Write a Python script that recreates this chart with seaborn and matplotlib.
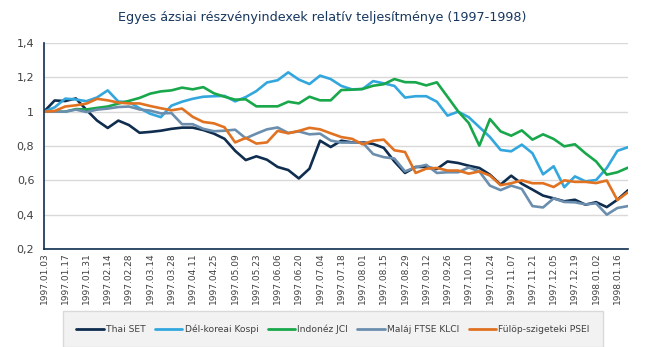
import matplotlib
matplotlib.use("Agg")
import matplotlib.pyplot as plt
from matplotlib.lines import Line2D
from matplotlib.patches import Rectangle
import seaborn as sns
import pandas as pd
import numpy as np

# ---- data (weekly, 1997.01.03 - 1998.01.23, relative to first week) ----
thai_set = [1.0, 1.065, 1.062, 1.077, 1.01, 0.948, 0.905, 0.948, 0.922, 0.877,
            0.882, 0.889, 0.9, 0.907, 0.907, 0.893, 0.872, 0.842, 0.772, 0.718,
            0.74, 0.72, 0.678, 0.66, 0.611, 0.668, 0.831, 0.794, 0.831, 0.821,
            0.821, 0.812, 0.789, 0.71, 0.643, 0.678, 0.678, 0.666, 0.71, 0.701,
            0.685, 0.672, 0.633, 0.575, 0.627, 0.58, 0.546, 0.511, 0.495, 0.478,
            0.487, 0.458, 0.473, 0.444, 0.487, 0.542]
kor_kospi = [1.0, 1.025, 1.076, 1.071, 1.061, 1.083, 1.124, 1.059, 1.056, 1.02,
             0.988, 0.968, 1.035, 1.058, 1.075, 1.087, 1.09, 1.092, 1.06, 1.085,
             1.12, 1.17, 1.183, 1.229, 1.187, 1.161, 1.21, 1.19, 1.15, 1.13,
             1.132, 1.178, 1.165, 1.15, 1.082, 1.09, 1.09, 1.058, 0.977, 1.0,
             0.968, 0.91, 0.852, 0.777, 0.769, 0.808, 0.758, 0.635, 0.682, 0.56,
             0.623, 0.594, 0.602, 0.672, 0.772, 0.793]
ind_jci = [1.0, 1.0, 1.0, 1.015, 1.013, 1.022, 1.03, 1.047, 1.063, 1.08,
           1.105, 1.118, 1.124, 1.14, 1.13, 1.143, 1.107, 1.087, 1.07, 1.072,
           1.031, 1.031, 1.031, 1.058, 1.048, 1.087, 1.066, 1.066, 1.126, 1.128,
           1.132, 1.151, 1.16, 1.19, 1.172, 1.171, 1.153, 1.171, 1.087, 1.002,
           0.934, 0.802, 0.957, 0.885, 0.86, 0.891, 0.837, 0.868, 0.841, 0.798,
           0.81, 0.757, 0.71, 0.633, 0.647, 0.674]
mal_klci = [1.0, 1.0, 1.0, 1.012, 0.998, 1.012, 1.018, 1.027, 1.03, 1.013,
            1.006, 0.99, 0.992, 0.927, 0.927, 0.9, 0.886, 0.889, 0.895, 0.845,
            0.872, 0.897, 0.908, 0.876, 0.885, 0.868, 0.872, 0.832, 0.82, 0.82,
            0.82, 0.753, 0.735, 0.727, 0.652, 0.676, 0.69, 0.643, 0.647, 0.647,
            0.675, 0.652, 0.569, 0.543, 0.569, 0.55, 0.45, 0.442, 0.495, 0.474,
            0.472, 0.46, 0.466, 0.40, 0.439, 0.45]
phi_psei = [1.0, 1.004, 1.03, 1.037, 1.047, 1.075, 1.066, 1.053, 1.048, 1.048,
            1.033, 1.02, 1.008, 1.018, 0.97, 0.94, 0.932, 0.909, 0.821, 0.847,
            0.814, 0.821, 0.888, 0.874, 0.888, 0.906, 0.897, 0.874, 0.852, 0.842,
            0.81, 0.831, 0.837, 0.775, 0.765, 0.643, 0.668, 0.672, 0.657, 0.657,
            0.639, 0.652, 0.628, 0.572, 0.583, 0.6, 0.583, 0.583, 0.561, 0.6,
            0.591, 0.591, 0.584, 0.599, 0.485, 0.531]

series_names = ["Thai SET", "Dél-koreai Kospi", "Indonéz JCI",
                "Maláj FTSE KLCI", "Fülöp-szigeteki PSEI"]
series_colors = ["#0f2d4f", "#33a7dd", "#19a74b", "#6b8eae", "#e07222"]

tick_labels = ["1997.01.03", "1997.01.17", "1997.01.31", "1997.02.14", "1997.02.28",
               "1997.03.14", "1997.03.28", "1997.04.11", "1997.04.25", "1997.05.09",
               "1997.05.23", "1997.06.06", "1997.06.20", "1997.07.04", "1997.07.18",
               "1997.08.01", "1997.08.15", "1997.08.29", "1997.09.12", "1997.09.26",
               "1997.10.10", "1997.10.24", "1997.11.07", "1997.11.21", "1997.12.05",
               "1997.12.19", "1998.01.02", "1998.01.16"]
y_ticks = [0.2, 0.4, 0.6, 0.8, 1.0, 1.2, 1.4]

title = "Egyes ázsiai részvényindexek relatív teljesítménye (1997-1998)"

# ---- build long table ----
all_vals = [thai_set, kor_kospi, ind_jci, mal_klci, phi_psei]
frames = []
for name, vals in zip(series_names, all_vals):
    frames.append(pd.DataFrame({"week": np.arange(len(vals)), "value": vals,
                                "series": name}))
df = pd.concat(frames, ignore_index=True)

sns.set_theme(style="white")
plt.rcParams["font.family"] = ["DejaVu Sans"]

W, H = 645, 347
fig = plt.figure(figsize=(W / 100, H / 100), dpi=100)
ax = fig.add_axes([44 / W, 1 - 249 / H, (628 - 44) / W, (249 - 43) / H])

sns.lineplot(data=df, x="week", y="value", hue="series",
             hue_order=series_names, palette=series_colors,
             linewidth=1.9, ax=ax, legend=False)

ax.set_xlim(0, len(thai_set) - 1)
ax.set_ylim(0.2, 1.4)
ax.set_yticks(y_ticks)
ax.set_yticklabels([f"{v:g}".replace(".", ",") for v in y_ticks],
                   fontsize=8, color="#404040")
ax.set_xticks(np.arange(0, 2 * len(tick_labels), 2))
ax.set_xticklabels(tick_labels, rotation=90, fontsize=6.5, color="#404040")
ax.tick_params(axis="both", length=0)
ax.tick_params(axis="y", pad=7)
ax.tick_params(axis="x", pad=2.5)
ax.set_xlabel("")
ax.set_ylabel("")

ax.grid(axis="y", color="#d9d9d9", linewidth=1.0)
ax.grid(axis="x", visible=False)
ax.set_axisbelow(True)
for s in ["top", "right"]:
    ax.spines[s].set_visible(False)
for s in ["left", "bottom"]:
    ax.spines[s].set_color("#0f2d4f")
    ax.spines[s].set_linewidth(1.2)

fig.text(0.5, 1 - 18 / H, title, ha="center", va="center",
         fontsize=9.2, color="#17375e")

# legend box
fig.patches.append(Rectangle((63 / W, 0), (603 - 63) / W, (H - 311) / H + 0.0,
                             transform=fig.transFigure, facecolor="#f2f2f2",
                             edgecolor="#d9d9d9", linewidth=1.0, zorder=0))
handles = [Line2D([0], [0], color=c, linewidth=2) for c in series_colors]
leg = fig.legend(handles, series_names, loc="center",
                 bbox_to_anchor=((63 + 603) / 2 / W, 1 - 329 / H),
                 ncol=5, frameon=False, fontsize=6.6, handlelength=3.0,
                 handletextpad=0.25, columnspacing=1.0)
for t in leg.get_texts():
    t.set_color("#404040")

fig.savefig("out.png", dpi=100)
